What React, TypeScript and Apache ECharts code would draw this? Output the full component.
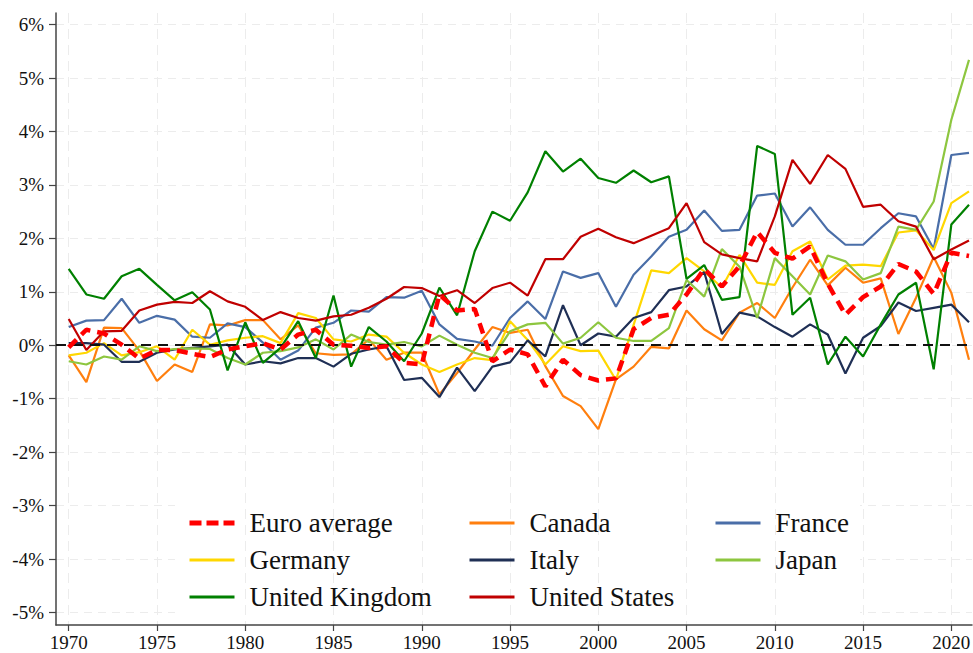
import React, { useEffect, useRef } from "react";
import * as echarts from "echarts";

const years = [
  1970, 1971, 1972, 1973, 1974, 1975, 1976, 1977, 1978, 1979,
  1980, 1981, 1982, 1983, 1984, 1985, 1986, 1987, 1988, 1989,
  1990, 1991, 1992, 1993, 1994, 1995, 1996, 1997, 1998, 1999,
  2000, 2001, 2002, 2003, 2004, 2005, 2006, 2007, 2008, 2009,
  2010, 2011, 2012, 2013, 2014, 2015, 2016, 2017, 2018, 2019,
  2020, 2021,
];

const euroAverage = [
  -0.04, 0.29, 0.22, 0.01, -0.25, -0.09, -0.09, -0.16, -0.22, -0.08,
  -0.02, 0.04, -0.08, 0.2, 0.29, 0.01, -0.01, -0.05, -0.02, -0.33,
  -0.36, 0.95, 0.65, 0.68, -0.3, -0.08, -0.17, -0.77, -0.27, -0.56,
  -0.66, -0.62, 0.3, 0.51, 0.57, 0.95, 1.43, 1.1, 1.48, 2.12,
  1.73, 1.62, 1.85, 1.15, 0.57, 0.9, 1.1, 1.52, 1.38, 0.96,
  1.73, 1.67,
];
const canada = [
  -0.19, -0.69, 0.33, 0.32, -0.1, -0.67, -0.36, -0.5, 0.39, 0.37,
  0.47, 0.47, 0.11, 0.37, -0.15, -0.18, -0.17, 0.11, -0.27, -0.14,
  -0.14, -0.92, -0.52, -0.08, 0.34, 0.23, 0.29, -0.39, -0.95, -1.14,
  -1.57, -0.64, -0.4, -0.03, -0.06, 0.65, 0.3, 0.09, 0.61, 0.79,
  0.51, 1.08, 1.6, 1.12, 1.45, 1.17, 1.25, 0.21, 0.89, 1.65,
  0.98, -0.27,
];
const france = [
  0.34, 0.46, 0.47, 0.87, 0.42, 0.55, 0.48, 0.16, 0.14, 0.41,
  0.34, 0.05, -0.27, -0.1, 0.33, 0.42, 0.65, 0.63, 0.9, 0.89,
  1.02, 0.39, 0.12, 0.07, -0.01, 0.51, 0.82, 0.49, 1.38, 1.26,
  1.35, 0.72, 1.32, 1.66, 2.03, 2.16, 2.52, 2.14, 2.16, 2.8,
  2.84, 2.22, 2.58, 2.16, 1.88, 1.88, 2.19, 2.47, 2.41, 1.8,
  3.56, 3.6,
];
const germany = [
  -0.19, -0.14, 0.04, -0.19, -0.13, -0.02, -0.27, 0.29, 0.01, 0.09,
  0.14, 0.17, 0.04, 0.6, 0.51, 0.11, 0.07, 0.2, 0.16, -0.14,
  -0.36, -0.5, -0.36, -0.24, -0.28, 0.45, 0.1, -0.36, -0.02, -0.11,
  -0.1, -0.65, 0.38, 1.4, 1.35, 1.63, 1.38, 1.08, 1.69, 1.17,
  1.13, 1.76, 1.94, 1.23, 1.49, 1.51, 1.48, 2.11, 2.15, 1.78,
  2.66, 2.88,
];
const italy = [
  0.04, 0.04, 0.01, -0.31, -0.31, -0.14, -0.08, -0.05, -0.02, 0.01,
  -0.36, -0.3, -0.34, -0.24, -0.24, -0.4, -0.16, -0.08, -0.02, -0.65,
  -0.61, -0.97, -0.42, -0.86, -0.4, -0.32, 0.09, -0.21, 0.75, 0.0,
  0.22, 0.16, 0.51, 0.62, 1.03, 1.1, 1.37, 0.21, 0.61, 0.54,
  0.34, 0.16, 0.39, 0.2, -0.53, 0.14, 0.36, 0.8, 0.64, 0.7,
  0.76, 0.43,
];
const japan = [
  -0.3, -0.36, -0.21, -0.27, -0.02, -0.11, -0.07, -0.06, -0.07, -0.24,
  -0.36, -0.14, -0.11, -0.04, 0.11, -0.08, 0.2, 0.06, 0.01, 0.06,
  -0.02, 0.18, 0.01, -0.14, -0.24, 0.26, 0.39, 0.42, 0.03, 0.14,
  0.43, 0.14, 0.08, 0.08, 0.32, 1.22, 0.91, 1.8, 1.47, 0.51,
  1.63, 1.29, 0.95, 1.68, 1.57, 1.23, 1.35, 2.22, 2.16, 2.69,
  4.22, 5.34,
];
const unitedKingdom = [
  1.43, 0.95, 0.87, 1.29, 1.43, 1.13, 0.84, 0.99, 0.67, -0.47,
  0.43, -0.33, -0.05, 0.45, -0.24, 0.93, -0.4, 0.34, 0.07, -0.3,
  0.22, 1.08, 0.56, 1.76, 2.5, 2.33, 2.86, 3.63, 3.25, 3.49,
  3.13, 3.04, 3.27, 3.05, 3.16, 1.24, 1.5, 0.85, 0.9, 3.73,
  3.58, 0.57, 0.89, -0.36, 0.16, -0.21, 0.39, 0.95, 1.17, -0.45,
  2.26, 2.63,
];
const unitedStates = [
  0.49, -0.09, 0.26, 0.27, 0.65, 0.76, 0.81, 0.79, 1.01, 0.82,
  0.72, 0.47, 0.62, 0.51, 0.46, 0.54, 0.57, 0.7, 0.87, 1.09,
  1.07, 0.92, 1.03, 0.79, 1.07, 1.17, 0.93, 1.61, 1.61, 2.03,
  2.18, 2.02, 1.91, 2.05, 2.19, 2.66, 1.93, 1.7, 1.63, 1.57,
  2.41, 3.47, 3.02, 3.56, 3.3, 2.59, 2.63, 2.32, 2.22, 1.61,
  1.79, 1.96,
];

const xTicks = [1970, 1975, 1980, 1985, 1990, 1995, 2000, 2005, 2010, 2015, 2020];
const yTicks = [-5, -4, -3, -2, -1, 0, 1, 2, 3, 4, 5, 6];

const legendCol1 = ["Euro average", "Germany", "United Kingdom"];
const legendCol2 = ["Canada", "Italy", "United States"];
const legendCol3 = ["France", "Japan"];

const FONT = "Liberation Serif";

export default function App() {
  const ref = useRef<HTMLDivElement>(null);

  useEffect(() => {
    const chart = echarts.init(ref.current!, null, { renderer: "svg" });

    const mk = (name: string, vals: number[], color: string, width: number, type: any, z: number) => ({
      name,
      type: "line",
      data: years.map((y, i) => [y, vals[i]]),
      symbol: "none",
      showSymbol: false,
      lineStyle: { color, width, type },
      itemStyle: { color },
      z,
      emphasis: { disabled: true },
    });

    const zero = {
      name: "zero",
      type: "line",
      data: [],
      symbol: "none",
      z: 3,
      markLine: {
        silent: true,
        symbol: ["none", "none"],
        label: { show: false },
        lineStyle: { color: "#111", type: [10, 7], width: 1.8 },
        data: [{ yAxis: 0 }],
      },
    };

    const hiddenSymbol = { opacity: 0, color: "rgba(0,0,0,0)", borderWidth: 0 };

    const legendItem = (name: string) =>
      name === "Euro average"
        ? { name, itemStyle: hiddenSymbol, lineStyle: { width: 5, type: [12, 5] } }
        : { name, itemStyle: hiddenSymbol, lineStyle: { width: 3 } };

    const legendBase = {
      orient: "vertical",
      top: 508,
      padding: 0,
      itemWidth: 45,
      itemHeight: 14,
      itemGap: 7,
      selectedMode: false,
      itemStyle: hiddenSymbol,
      textStyle: {
        fontFamily: FONT,
        fontSize: 27,
        color: "#111",
        lineHeight: 30,
        padding: [0, 0, 0, 10],
      },
    };

    chart.setOption({
      animation: false,
      backgroundColor: "#fff",
      grid: {
        left: 56,
        right: 1,
        top: 13,
        bottom: 28,
        containLabel: false,
        outerBoundsMode: "none",
      },
      xAxis: {
        type: "value",
        min: 1969.28,
        max: 2021.17,
        z: 3,
        axisLine: { show: true, onZero: false, lineStyle: { color: "#444", width: 1.5 } },
        axisTick: { show: true, length: 6, customValues: xTicks, lineStyle: { color: "#444", width: 1.2 } },
        axisLabel: {
          customValues: xTicks,
          formatter: (v: number) => String(v),
          fontFamily: FONT,
          fontSize: 19,
          color: "#111",
          margin: 8,
        },
        splitLine: { show: true, lineStyle: { color: "#ececec", type: [10, 6], width: 1 } },
      },
      yAxis: {
        type: "value",
        min: -5.235,
        max: 6.217,
        axisLine: { show: true, onZero: false, lineStyle: { color: "#444", width: 1.5 } },
        axisTick: { show: true, length: 7, customValues: yTicks, lineStyle: { color: "#444", width: 1.2 } },
        axisLabel: {
          customValues: yTicks,
          formatter: (v: number) => `${v}%`,
          fontFamily: FONT,
          fontSize: 19,
          color: "#111",
          margin: 12,
        },
        splitLine: { show: true, lineStyle: { color: "#ececec", type: [8, 6], width: 1 } },
      },
      legend: [
        { ...legendBase, left: 187, data: legendCol1.map(legendItem) },
        { ...legendBase, left: 468, data: legendCol2.map(legendItem) },
        { ...legendBase, left: 714, data: legendCol3.map(legendItem) },
      ],
      graphic: [
        {
          type: "rect",
          z: 1,
          silent: true,
          shape: { x: 175, y: 498, width: 685, height: 123 },
          style: { fill: "#ffffff" },
        },
      ],
      series: [
        zero,
        mk("Canada", canada, "#ff7f0e", 2.2, "solid", 4),
        mk("France", france, "#4a6ea8", 2.2, "solid", 4),
        mk("Germany", germany, "#ffd700", 2.2, "solid", 4),
        mk("Italy", italy, "#1f2f55", 2.2, "solid", 4),
        mk("Japan", japan, "#8dc63f", 2.2, "solid", 4),
        mk("United Kingdom", unitedKingdom, "#008000", 2.2, "solid", 4),
        mk("United States", unitedStates, "#c00000", 2.2, "solid", 4),
        mk("Euro average", euroAverage, "#ff0000", 4.5, [11, 7], 5),
      ],
    });

    return () => chart.dispose();
  }, []);

  return (
    <div
      ref={ref}
      style={{ position: "fixed", left: 0, top: 0, width: 973, height: 653, background: "#fff" }}
    />
  );
}
